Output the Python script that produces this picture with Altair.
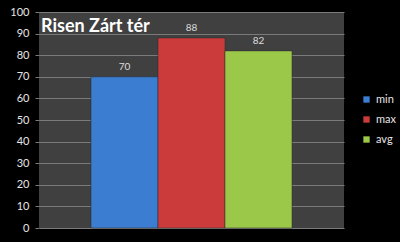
import altair as alt
import pandas as pd

series = ["min", "max", "avg"]
values = [70, 88, 82]
colors = ["#3b7dd0", "#cc3b3b", "#9cc84a"]
y_ticks = [0, 10, 20, 30, 40, 50, 60, 70, 80, 90, 100]
title_text = "Risen Zárt tér"

df = pd.DataFrame({"series": series, "value": values})

x = alt.X("series:N", sort=series,
          scale=alt.Scale(paddingInner=0, paddingOuter=0.776),
          axis=None)
y = alt.Y("value:Q", scale=alt.Scale(domain=[0, 100]),
          axis=alt.Axis(values=y_ticks, title=None, tickSize=4, tickColor="#7a7a7a",
                        gridColor="#7a7a7a", gridWidth=1, domain=False,
                        labelColor="#e6e6e6", labelFont="Lato", labelFontSize=11,
                        labelPadding=6, labelOverlap=False))

bars = alt.Chart(df).mark_bar(stroke="#2a2a2a", strokeWidth=0.5).encode(
    x=x, y=y,
    color=alt.Color("series:N", sort=series,
                    scale=alt.Scale(domain=series, range=colors),
                    legend=alt.Legend(title=None, orient="none", legendX=322, legendY=82,
                                      symbolType="square", symbolSize=40,
                                      symbolStrokeWidth=0, labelColor="#e6e6e6",
                                      labelFont="Lato", labelFontSize=11,
                                      rowPadding=8, labelOffset=4))
)

labels = alt.Chart(df).mark_text(baseline="alphabetic", dy=-7, font="Lato",
                                 fontSize=10, color="#dcdcdc").encode(
    x=x, y=y, text="value:Q")

title = alt.Chart(pd.DataFrame({"t": [title_text]})).mark_text(
    align="left", baseline="alphabetic", font="Lato", fontSize=18,
    fontWeight="bold", color="#ffffff").encode(
    x=alt.value(2), y=alt.value(20), text="t:N")

chart = alt.layer(bars, labels, title).properties(
    width=305, height=216,
    autosize=alt.AutoSizeParams(type="none"),
    padding={"left": 39, "top": 12, "right": 56, "bottom": 14},
    background="#000000",
).configure_view(fill="#404040", stroke=None)

chart.save("out.html", embed_options={"renderer": "svg", "actions": False})
